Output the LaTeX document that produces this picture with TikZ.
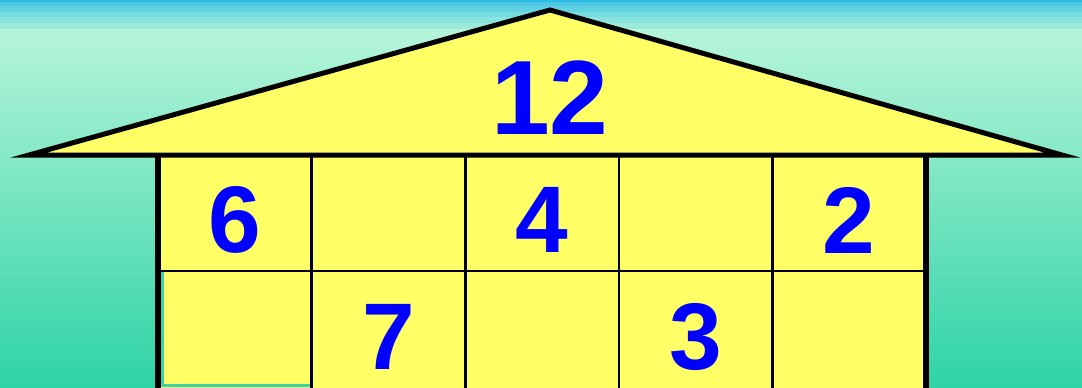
\documentclass[tikz,border=0pt]{standalone}
\usepackage{fontspec}
\setmainfont{Liberation Sans}
\definecolor{roofyellow}{RGB}{255,255,102}
\definecolor{numblue}{RGB}{0,0,255}
\definecolor{sA}{RGB}{42,189,230}
\definecolor{sB}{RGB}{76,200,228}
\definecolor{sC}{RGB}{98,210,226}
\definecolor{sD}{RGB}{118,220,224}
\definecolor{sE}{RGB}{138,228,222}
\definecolor{sF}{RGB}{157,234,219}
\definecolor{bgtop}{RGB}{182,245,217}
\definecolor{bgbot}{RGB}{46,211,166}
\begin{document}
\begin{tikzpicture}[x=1bp,y=-1bp,
  num/.style={text=numblue,font=\bfseries\fontsize{95}{95}\selectfont,inner sep=0pt},
  bignum/.style={text=numblue,font=\bfseries\fontsize{106}{106}\selectfont,inner sep=0pt},
  thinline/.style={line width=2.6bp,black},
  thickline/.style={line width=6bp,black}]
\useasboundingbox (0,0) rectangle (1082,387);
% background
\fill[sA] (0,0) rectangle (1082,2);
\fill[sB] (0,2) rectangle (1082,6);
\fill[sC] (0,6) rectangle (1082,11.7);
\fill[sD] (0,11.7) rectangle (1082,17.3);
\fill[sE] (0,17.3) rectangle (1082,22.7);
\fill[sF] (0,22.7) rectangle (1082,29);
\shade[top color=bgtop,bottom color=bgbot] (0,29) rectangle (1082,387);
% house body
\fill[roofyellow] (158,155) rectangle (926,390);
\fill[bgbot!95!white] (160,271) rectangle (163.5,387);
\fill[bgbot!95!white] (160,383.5) rectangle (311,387);
\foreach \x in {311.6,465.2,618.8,772.4} \draw[thinline] (\x,155) -- (\x,390);
\draw[thinline] (158,271) -- (926,271);
\draw[thickline] (158,155) -- (158,390);
\draw[thickline] (926,155) -- (926,390);
% roof
\draw[line width=5bp,fill=roofyellow,line join=miter,miter limit=12] (29,155) -- (550,10) -- (1062,155) -- cycle;
% numbers
\node[bignum] (n12) at (550,98) {12};
\node[num] (n6) at (234.8,220) {6};
\node[num] (n4) at (542,220) {4};
\node[num] (n2) at (849.2,220) {2};
\node[num] (n7) at (388.4,337) {7};
\node[num] (n3) at (695.6,337) {3};
\end{tikzpicture}
\end{document}
